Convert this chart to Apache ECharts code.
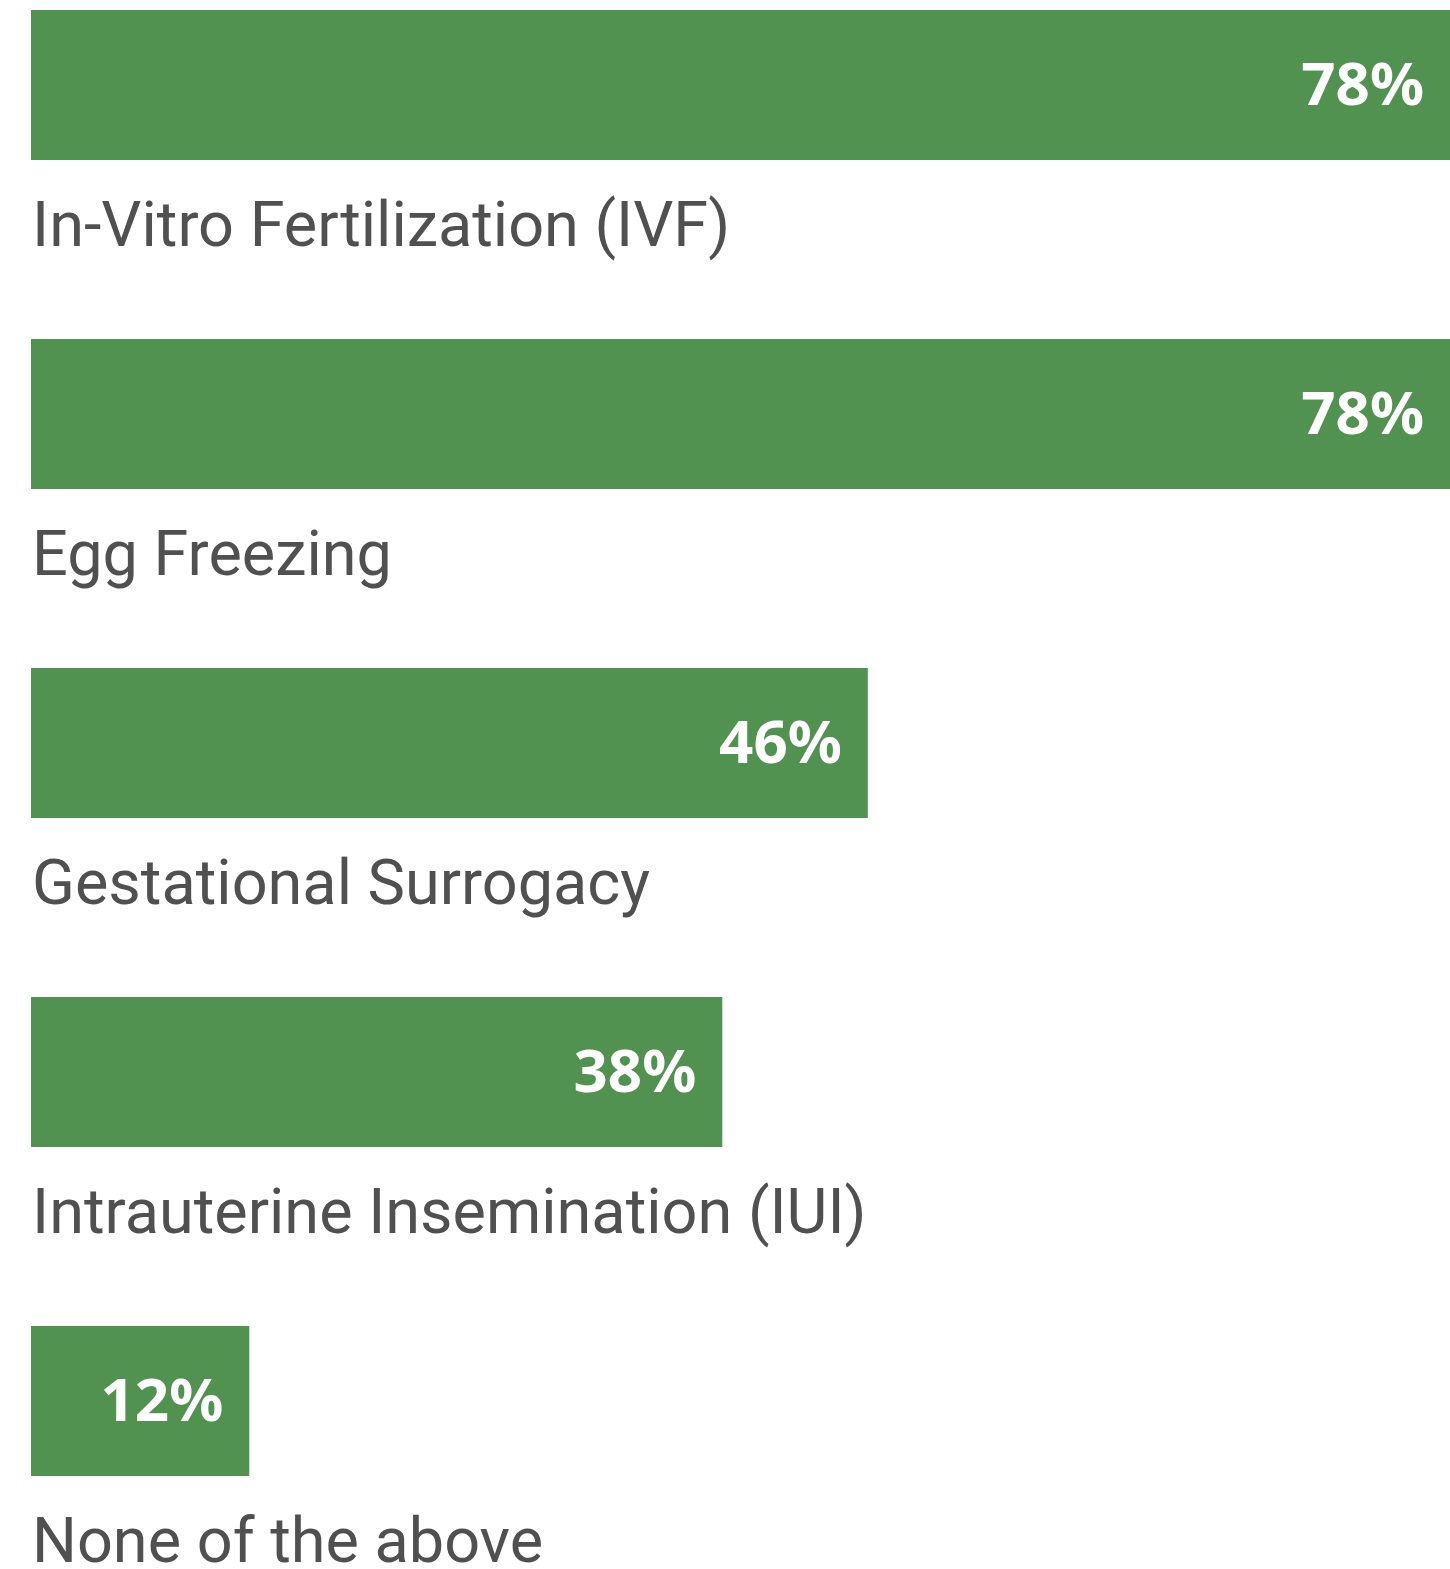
<!DOCTYPE html>
<html>
<head>
<meta charset="utf-8">
<script src="https://cdn.jsdelivr.net/npm/echarts@6/dist/echarts.min.js"></script>
<style>
  html, body { margin: 0; padding: 0; background: #fff; }
  #main { width: 1450px; height: 1569px; }
</style>
</head>
<body>
<div id="main"></div>
<script>
// 各项数据
var categories = ['In-Vitro Fertilization (IVF)', 'Egg Freezing', 'Gestational Surrogacy', 'Intrauterine Insemination (IUI)', 'None of the above'];
var percents = [78, 78, 46, 38, 12];

var chart = echarts.init(document.getElementById('main'));
chart.setOption({
  animation: false,
  grid: {
    left: 31,
    right: 0,
    top: 85,
    bottom: 168
  },
  xAxis: {
    type: 'value',
    min: 0,
    max: 78,
    show: false
  },
  yAxis: {
    type: 'category',
    inverse: true,
    boundaryGap: false,
    data: categories,
    axisLine: { show: false },
    axisTick: { show: false },
    axisLabel: { show: false }
  },
  series: [{
    // 绿色条形 + 百分比
    type: 'bar',
    data: percents,
    barWidth: 150,
    clip: false,
    itemStyle: { color: '#529250' },
    label: {
      show: true,
      position: 'insideRight',
      distance: 26,
      offset: [0, 3],
      formatter: '{c}%',
      fontFamily: 'Noto Sans',
      fontWeight: 'bold',
      fontSize: 60,
      color: '#ffffff'
    }
  }, {
    // 透明条形，只用来在下方显示类别名
    type: 'bar',
    data: percents,
    barWidth: 150,
    barGap: '-100%',
    clip: false,
    silent: true,
    itemStyle: { color: 'rgba(0,0,0,0)' },
    label: {
      show: true,
      position: 'insideLeft',
      distance: 1,
      offset: [0, 145],
      formatter: '{b}',
      fontFamily: 'Roboto',
      fontSize: 63,
      color: '#505050'
    }
  }]
});
</script>
</body>
</html>
